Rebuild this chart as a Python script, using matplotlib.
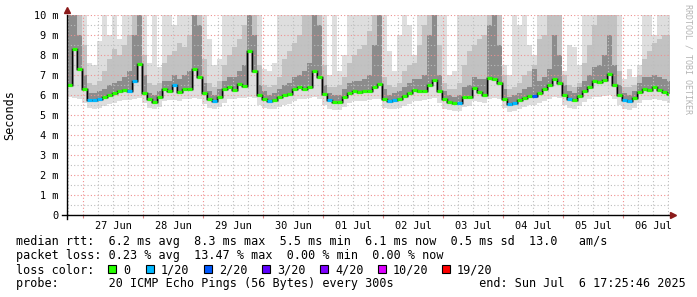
import numpy as np
import pandas as pd
import matplotlib
matplotlib.use("Agg")
import matplotlib.pyplot as plt
import matplotlib.dates as mdates
from matplotlib.patches import Rectangle
from matplotlib.ticker import MultipleLocator, FuncFormatter, NullFormatter

# one value every 2 hours, first bin starts 26 Jun 17:36
start = pd.Timestamp("2025-06-26 17:36")
span_hours = 240.8

# median rtt in ms
median = [6.5, 8.3, 7.3, 6.3, 5.75, 5.75, 5.8, 5.9, 6.0, 6.1,
          6.2, 6.25, 6.2, 6.7, 7.55, 6.1, 5.8, 5.67, 5.9, 6.3,
          6.2, 6.5, 6.15, 6.3, 6.3, 7.3, 6.9, 6.1, 5.8, 5.7,
          5.9, 6.3, 6.4, 6.25, 6.55, 6.45, 8.2, 7.2, 6.0, 5.8,
          5.7, 5.75, 5.9, 6.0, 6.05, 6.3, 6.4, 6.3, 6.4, 7.2,
          6.9, 6.05, 5.75, 5.67, 5.67, 5.9, 6.1, 6.2, 6.15, 6.2,
          6.2, 6.4, 6.55, 5.8, 5.7, 5.75, 5.8, 5.95, 6.1, 6.25,
          6.2, 6.2, 6.5, 6.75, 6.2, 5.8, 5.67, 5.6, 5.6, 5.9,
          5.9, 6.35, 6.15, 6.0, 6.85, 6.8, 6.6, 5.8, 5.55, 5.6,
          5.75, 5.85, 5.95, 5.95, 6.1, 6.3, 6.5, 6.8, 6.6, 6.0,
          5.8, 5.75, 5.95, 6.2, 6.4, 6.7, 6.65, 6.75, 7.05, 6.5,
          6.0, 5.75, 5.7, 5.85, 6.15, 6.3, 6.25, 6.4, 6.25, 6.15,
          6.05]

# lost pings out of 20
loss = [0, 0, 0, 0, 1, 1, 1, 0, 0, 0,
        0, 0, 1, 1, 0, 0, 0, 0, 0, 0,
        0, 1, 0, 0, 0, 0, 0, 0, 0, 1,
        0, 0, 0, 0, 0, 0, 0, 0, 0, 0,
        1, 0, 0, 0, 0, 0, 0, 0, 0, 0,
        0, 0, 1, 0, 0, 0, 0, 0, 0, 0,
        0, 0, 0, 0, 1, 1, 0, 0, 0, 0,
        0, 0, 0, 0, 0, 0, 0, 0, 1, 0,
        0, 0, 0, 0, 0, 0, 0, 0, 1, 1,
        0, 0, 0, 2, 0, 0, 0, 0, 0, 0,
        1, 0, 0, 0, 0, 0, 0, 0, 0, 0,
        0, 1, 1, 0, 0, 0, 0, 0, 0, 0,
        0]

# smoke: top of light / mid / dark grey, and bottom of smoke (ms)
smoke_light = [10.5, 10.5, 10.5, 10.5, 7.6, 7.5, 8.7, 10.5, 9.0, 10.5,
               8.8, 10.5, 10.5, 10.5, 10.5, 10.5, 7.6, 10.5, 7.4, 10.5,
               10.5, 9.5, 10.5, 10.5, 10.5, 10.5, 10.5, 10.5, 8.8, 7.5,
               7.8, 10.5, 10.5, 10.5, 10.5, 10.5, 10.5, 10.5, 10.5, 7.3,
               7.2, 7.6, 10.5, 10.5, 10.5, 10.5, 10.5, 10.5, 10.5, 10.5,
               10.5, 10.5, 7.0, 10.5, 7.2, 8.0, 10.5, 10.5, 10.5, 10.5,
               10.5, 10.5, 10.5, 10.5, 8.2, 7.2, 9.0, 10.5, 9.5, 8.0,
               10.5, 10.5, 10.5, 10.5, 10.5, 10.5, 7.0, 7.2, 10.5, 10.5,
               10.5, 10.5, 10.5, 10.5, 10.5, 10.5, 10.5, 7.5, 7.0, 10.5,
               9.5, 10.5, 8.5, 8.0, 10.5, 10.5, 10.5, 10.5, 10.5, 7.2,
               8.5, 8.4, 7.5, 10.5, 10.5, 10.5, 10.5, 10.5, 10.5, 10.5,
               10.5, 6.8, 7.3, 6.9, 7.5, 10.5, 10.5, 9.0, 10.5, 10.5,
               10.5]

smoke_mid = [10.5, 10.5, 10.5, 8.5, 6.6, 6.5, 6.7, 7.2, 7.8, 8.3,
             8.0, 8.5, 9.0, 10.5, 10.5, 8.0, 6.6, 6.5, 6.6, 7.6,
             8.0, 8.2, 8.6, 8.4, 9.0, 10.5, 10.5, 7.8, 6.6, 6.4,
             6.7, 7.5, 8.0, 8.4, 8.8, 9.5, 10.5, 10.5, 7.5, 6.5,
             6.4, 6.5, 6.9, 7.8, 8.2, 8.6, 9.0, 10.5, 10.5, 10.5,
             10.5, 7.5, 6.4, 6.4, 6.5, 6.9, 7.6, 8.0, 8.3, 8.5,
             9.2, 10.5, 10.5, 6.9, 6.5, 6.4, 6.6, 7.2, 7.5, 7.6,
             8.5, 9.5, 10.5, 10.5, 8.5, 6.6, 6.3, 6.3, 6.6, 7.5,
             8.2, 8.5, 8.8, 9.0, 10.5, 10.5, 10.5, 7.0, 6.3, 6.4,
             6.6, 7.0, 7.2, 7.5, 8.8, 9.0, 10.5, 10.5, 10.5, 7.0,
             6.5, 6.4, 6.6, 7.6, 8.5, 9.5, 10.5, 10.5, 10.5, 10.5,
             7.2, 6.4, 6.4, 6.5, 7.0, 7.8, 8.2, 8.6, 8.8, 9.0,
             9.0]

smoke_dark = [10.5, 10.5, 9.0, 7.0, 6.1, 6.1, 6.2, 6.3, 6.5, 6.6,
              6.7, 6.9, 7.2, 9.0, 10.5, 7.0, 6.1, 6.0, 6.2, 6.7,
              6.7, 7.0, 6.8, 7.0, 7.2, 10.5, 9.5, 6.6, 6.2, 6.0,
              6.3, 6.7, 6.9, 6.9, 7.2, 7.5, 10.5, 9.0, 6.5, 6.2,
              6.0, 6.1, 6.3, 6.5, 6.6, 6.9, 7.0, 7.2, 7.6, 10.5,
              9.5, 6.5, 6.1, 6.0, 6.0, 6.3, 6.6, 6.7, 6.7, 6.8,
              7.0, 8.5, 10.5, 6.3, 6.0, 6.1, 6.2, 6.4, 6.6, 6.8,
              6.8, 7.0, 9.0, 10.5, 7.0, 6.2, 6.0, 5.9, 6.0, 6.4,
              6.5, 6.9, 6.8, 6.8, 9.5, 10.5, 8.5, 6.3, 5.9, 6.0,
              6.1, 6.3, 6.4, 7.3, 6.7, 6.9, 7.3, 9.0, 8.0, 6.5,
              6.2, 6.1, 6.4, 6.7, 7.0, 7.4, 7.5, 8.0, 9.0, 7.5,
              6.5, 6.1, 6.0, 6.2, 6.6, 6.9, 6.9, 7.0, 6.9, 6.8,
              6.7]

smoke_low = [5.9, 5.85, 5.8, 5.6, 5.35, 5.3, 5.35, 5.45, 5.55, 5.6,
             5.7, 5.75, 5.75, 5.8, 5.85, 5.6, 5.35, 5.3, 5.4, 5.7,
             5.75, 5.75, 5.7, 5.8, 5.8, 5.85, 5.8, 5.55, 5.35, 5.3,
             5.4, 5.6, 5.8, 5.8, 5.85, 5.85, 5.9, 5.85, 5.5, 5.35,
             5.3, 5.3, 5.4, 5.5, 5.55, 5.7, 5.8, 5.8, 5.85, 5.9,
             5.8, 5.5, 5.3, 5.25, 5.25, 5.4, 5.6, 5.7, 5.7, 5.7,
             5.75, 5.8, 5.8, 5.35, 5.3, 5.3, 5.35, 5.45, 5.55, 5.7,
             5.7, 5.75, 5.8, 5.85, 5.6, 5.3, 5.25, 5.2, 5.2, 5.4,
             5.45, 5.7, 5.65, 5.6, 5.8, 5.85, 5.8, 5.35, 5.15, 5.2,
             5.3, 5.4, 5.5, 5.5, 5.6, 5.7, 5.8, 5.9, 5.85, 5.5,
             5.35, 5.3, 5.45, 5.65, 5.8, 5.9, 5.9, 5.95, 6.0, 5.8,
             5.5, 5.3, 5.25, 5.35, 5.6, 5.75, 5.75, 5.8, 5.75, 5.7,
             5.6]

loss_keys = [0, 1, 2, 3, 4, 10, 19]
loss_labels = ["0", "1/20", "2/20", "3/20", "4/20", "10/20", "19/20"]
loss_colors = ["#26ff00", "#00b8ff", "#0059ff", "#5e00ff", "#7e00ff", "#dd00ff", "#ff0000"]

stats_line = "median rtt:  6.2 ms avg  8.3 ms max  5.5 ms min  6.1 ms now  0.5 ms sd  13.0   am/s"
loss_line = "packet loss: 0.23 % avg  13.47 % max  0.00 % min  0.00 % now"
probe_line = "probe:       20 ICMP Echo Pings (56 Bytes) every 300s            end: Sun Jul  6 17:25:46 2025"


def loss_color(n):
    c = loss_colors[0]
    for k, col in zip(loss_keys, loss_colors):
        if n >= k:
            c = col
    return c


plt.rcParams['font.family'] = ['DejaVu Sans Mono']
W, H = 697, 297
fig = plt.figure(figsize=(W / 100, H / 100), dpi=100, facecolor='white')
ax = fig.add_axes([67 / W, 1 - 215 / H, 602 / W, 200 / H])

edges = pd.date_range(start, periods=len(median) + 1, freq="2h")
med = np.array(median)


def ext(v):
    v = np.asarray(v, dtype=float)
    return np.append(v, v[-1])


# smoke, lightest layer first
ax.fill_between(edges, ext(smoke_low), ext(smoke_light), step='post',
                color='#dedede', lw=0, zorder=1)
ax.fill_between(edges, ext(median), ext(smoke_mid), step='post',
                color='#c2c2c2', lw=0, zorder=1.1)
ax.fill_between(edges, ext(median), ext(smoke_dark), step='post',
                color='#8c8c8c', lw=0, zorder=1.2)

# median line coloured by loss
ax.step(edges, ext(median), where='post', color='#6a6a6a', lw=2.0, zorder=3)
ax.step(edges, ext(median), where='post', color='black', lw=0.7, zorder=3.1)
ax.hlines(med, edges[:-1], edges[1:], colors=[loss_color(n) for n in loss],
          lw=2.3, zorder=4)

ax.set_ylim(0, 10)
ax.set_xlim(start, start + pd.Timedelta(hours=span_hours))

# grid, rrdtool style
ax.set_axisbelow(False)
ax.yaxis.set_major_locator(MultipleLocator(1))
ax.yaxis.set_minor_locator(MultipleLocator(0.5))
ax.yaxis.set_major_formatter(FuncFormatter(lambda v, p: "0" if v == 0 else f"{v:.0f} m"))
ax.xaxis.set_major_locator(mdates.DayLocator())
ax.xaxis.set_minor_locator(mdates.HourLocator(byhour=[6, 12, 18]))
ax.xaxis.set_major_formatter(NullFormatter())
dot = (0, (1, 2))
ax.grid(which='major', color='#f09090', linestyle=dot, lw=0.8)
ax.grid(which='minor', color='#bdbdbd', linestyle=dot, lw=0.8)
ax.tick_params(axis='y', which='both', length=0, pad=6, labelsize=7.4)
ax.tick_params(axis='x', which='major', length=2.5, color='#e08080', width=0.8)
ax.tick_params(axis='x', which='minor', length=0)
for s in ax.spines.values():
    s.set_visible(False)

sec = ax.secondary_xaxis('bottom')
sec.xaxis.set_major_locator(mdates.HourLocator(byhour=12))
sec.xaxis.set_major_formatter(mdates.DateFormatter('%d %b'))
sec.tick_params(length=0, pad=4, labelsize=7.4)
sec.spines['bottom'].set_visible(False)

# axis lines and arrows
ax.plot([-5 / 602, 1.006], [0, 0], transform=ax.transAxes, color='black', lw=1, clip_on=False, zorder=5)
ax.plot([0, 0], [-4 / 200, 1.0], transform=ax.transAxes, color='black', lw=1, clip_on=False, zorder=5)
ax.plot([1.006], [0], transform=ax.transAxes, marker='>', color='#8b1a1a', ms=4, clip_on=False, zorder=6)
ax.plot([0], [1.025], transform=ax.transAxes, marker='^', color='#8b1a1a', ms=4, clip_on=False, zorder=6)

fig.text(10 / W, 1 - 115 / H, "Seconds", rotation=90, ha='center', va='center', fontsize=8.5)
fig.text(688 / W, 1 - 4 / H, "RRDTOOL / TOBI OETIKER", rotation=270, ha='center', va='top',
         fontsize=6, color='#b4b4b4')

# legend block
fs = 8.5
fig.text(16 / W, 1 - 245.5 / H, stats_line, fontsize=fs, va='baseline')
fig.text(16 / W, 1 - 259.5 / H, loss_line, fontsize=fs, va='baseline')
fig.text(16 / W, 1 - 273.5 / H, "loss color:", fontsize=fs, va='baseline')
fig.text(16 / W, 1 - 287.5 / H, probe_line, fontsize=fs, va='baseline')
box_x = [108, 146, 204, 262, 320, 378, 442]
for bx, lab, col in zip(box_x, loss_labels, loss_colors):
    fig.add_artist(Rectangle((bx / W, 1 - 273 / H), 8 / W, 8 / H, transform=fig.transFigure,
                             facecolor=col, edgecolor='black', lw=0.8))
    fig.text((bx + 15) / W, 1 - 273.5 / H, lab, fontsize=fs, va='baseline')

fig.savefig('out.png', dpi=100, facecolor='white')
